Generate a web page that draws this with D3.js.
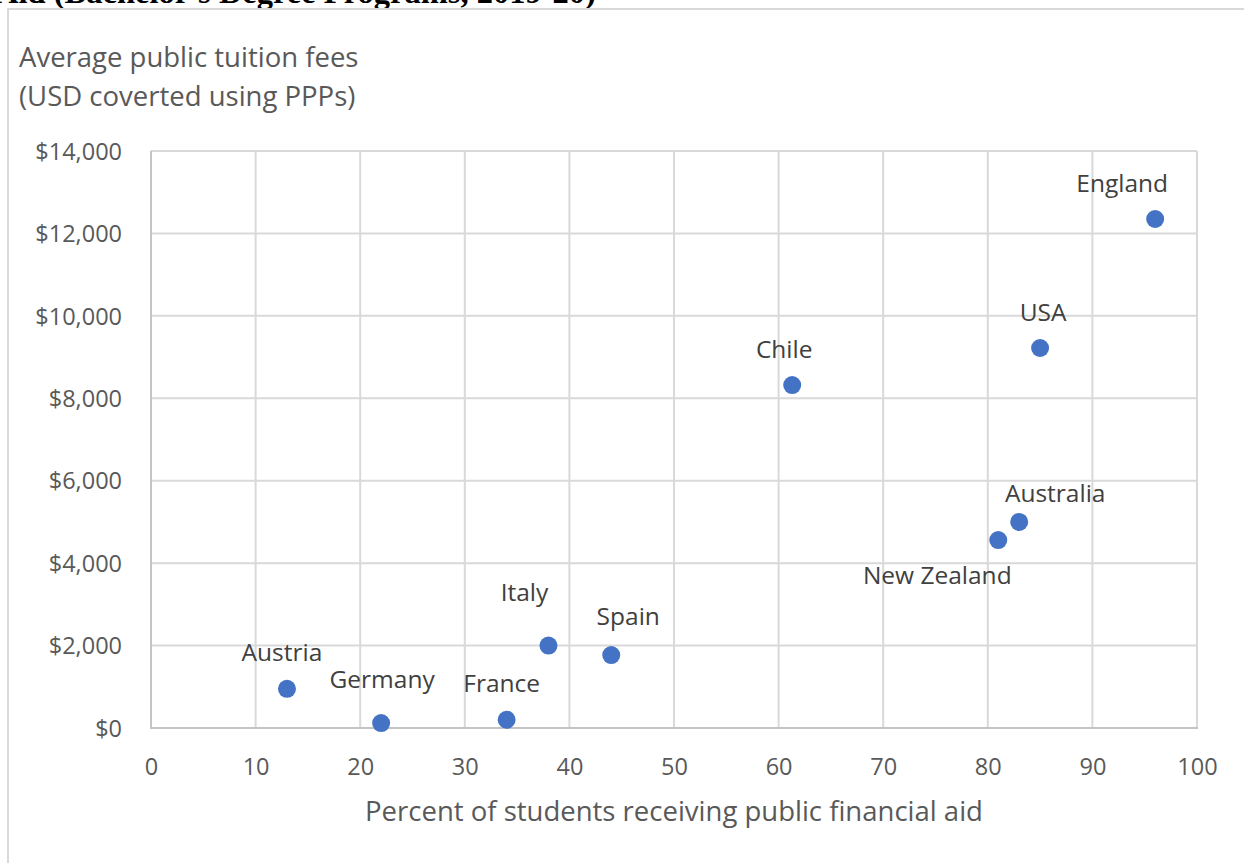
<!DOCTYPE html>
<html>
<head>
<meta charset="utf-8">
<script src="https://cdn.jsdelivr.net/npm/d3@7"></script>
<style>
  body { margin: 0; background: #fff; overflow: hidden; }
  text { font-family: "Open Sans", "Noto Sans", sans-serif; }
</style>
</head>
<body>
<svg id="chart" width="1244" height="863"></svg>
<script>
// data
var countries = ["Austria", "Germany", "France", "Italy", "Spain", "Chile", "USA", "England", "Australia", "New Zealand"];
var aidPct    = [13, 22, 34, 38, 44, 61.3, 85, 96, 83, 81];
var fees      = [950, 120, 200, 2000, 1770, 8320, 9220, 12350, 5000, 4560];
var xTicks = [0, 10, 20, 30, 40, 50, 60, 70, 80, 90, 100];
var yTicks = [0, 2000, 4000, 6000, 8000, 10000, 12000, 14000];

// label offsets from the dot (px), like the hand placed excel labels
var labelDx = [-5, 1, -5, -24, 17, -8, 3, -33, 36, -61];
var labelDy = [-36, -44, -36, -53, -39, -36, -36, -36, -29, 35];

var svg = d3.select("#chart"),
  width = +svg.attr("width"),
  height = +svg.attr("height");

var grey = "#595959";

// title, cut off at the top of the crop like in the original
svg.append("text")
  .attr("x", -5)
  .attr("y", 3)
  .style("font-family", "'Liberation Serif', 'DejaVu Serif', serif")
  .style("font-weight", "bold")
  .style("font-size", "32.5px")
  .attr("fill", "#000")
  .text("Aid (Bachelor's Degree Programs, 2019-20)");

// chart frame (only top and left visible)
svg.append("path")
  .attr("d", "M8,863 L8,9 L1244,9")
  .attr("fill", "none")
  .attr("stroke", "#d9d9d9")
  .attr("stroke-width", 2);

var x = d3.scaleLinear().domain([0, 100]).range([151, 1197]);
var y = d3.scaleLinear().domain([0, 14000]).range([728, 151]);

// gridlines
var grid = svg.append("g");
grid.selectAll(".vgrid")
  .data(xTicks)
  .enter()
  .append("line")
    .attr("x1", function(d) { return x(d); })
    .attr("x2", function(d) { return x(d); })
    .attr("y1", y(14000))
    .attr("y2", y(0))
    .attr("stroke", "#d9d9d9")
    .attr("stroke-width", 2);
grid.selectAll(".hgrid")
  .data(yTicks)
  .enter()
  .append("line")
    .attr("x1", x(0))
    .attr("x2", x(100))
    .attr("y1", function(d) { return y(d); })
    .attr("y2", function(d) { return y(d); })
    .attr("stroke", "#d9d9d9")
    .attr("stroke-width", 2);

// axis lines a touch darker
svg.append("line")
  .attr("x1", x(0) - 1).attr("x2", x(100) + 1)
  .attr("y1", y(0)).attr("y2", y(0))
  .attr("stroke", "#c4c4c4").attr("stroke-width", 2);
svg.append("line")
  .attr("x1", x(0)).attr("x2", x(0))
  .attr("y1", y(14000)).attr("y2", y(0))
  .attr("stroke", "#c4c4c4").attr("stroke-width", 2);

// axes (tick text only)
var xAxis = svg.append("g")
  .attr("transform", "translate(0," + y(0) + ")")
  .call(d3.axisBottom(x).tickValues(xTicks).tickSize(0).tickPadding(47));
var yAxis = svg.append("g")
  .attr("transform", "translate(" + x(0) + ",0)")
  .call(d3.axisLeft(y).tickValues(yTicks).tickSize(0).tickPadding(29)
    .tickFormat(function(d) { return "$" + d3.format(",")(d); }));
[xAxis, yAxis].forEach(function(a) {
  a.select(".domain").remove();
  a.selectAll("text")
    .style("font-family", "'Open Sans', 'Noto Sans', sans-serif")
    .style("font-size", "23.5px")
    .attr("fill", grey);
});
xAxis.selectAll("text").attr("dy", "0");
yAxis.selectAll("text").attr("dy", "0.35em");

// axis titles
svg.append("text")
  .attr("x", (x(0) + x(100)) / 2)
  .attr("y", 821)
  .attr("text-anchor", "middle")
  .style("font-size", "27.5px")
  .attr("fill", grey)
  .text("Percent of students receiving public financial aid");
svg.append("text")
  .attr("x", 19)
  .attr("y", 67)
  .style("font-size", "27.5px")
  .attr("fill", grey)
  .text("Average public tuition fees");
svg.append("text")
  .attr("x", 19)
  .attr("y", 106)
  .style("font-size", "27.5px")
  .attr("fill", grey)
  .text("(USD coverted using PPPs)");

// points
var pts = countries.map(function(c, i) {
  return { name: c, aid: aidPct[i], fee: fees[i], dx: labelDx[i], dy: labelDy[i] };
});

svg.append("g")
  .selectAll("circle")
  .data(pts)
  .enter()
  .append("circle")
    .attr("cx", function(d) { return x(d.aid); })
    .attr("cy", function(d) { return y(d.fee); })
    .attr("r", 9)
    .attr("fill", "#4472c4");

svg.append("g")
  .selectAll("text")
  .data(pts)
  .enter()
  .append("text")
    .attr("x", function(d) { return x(d.aid) + d.dx; })
    .attr("y", function(d) { return y(d.fee) + d.dy; })
    .attr("text-anchor", "middle")
    .attr("dy", "0.35em")
    .style("font-size", "24.5px")
    .attr("fill", "#404040")
    .text(function(d) { return d.name; });
</script>
</body>
</html>
